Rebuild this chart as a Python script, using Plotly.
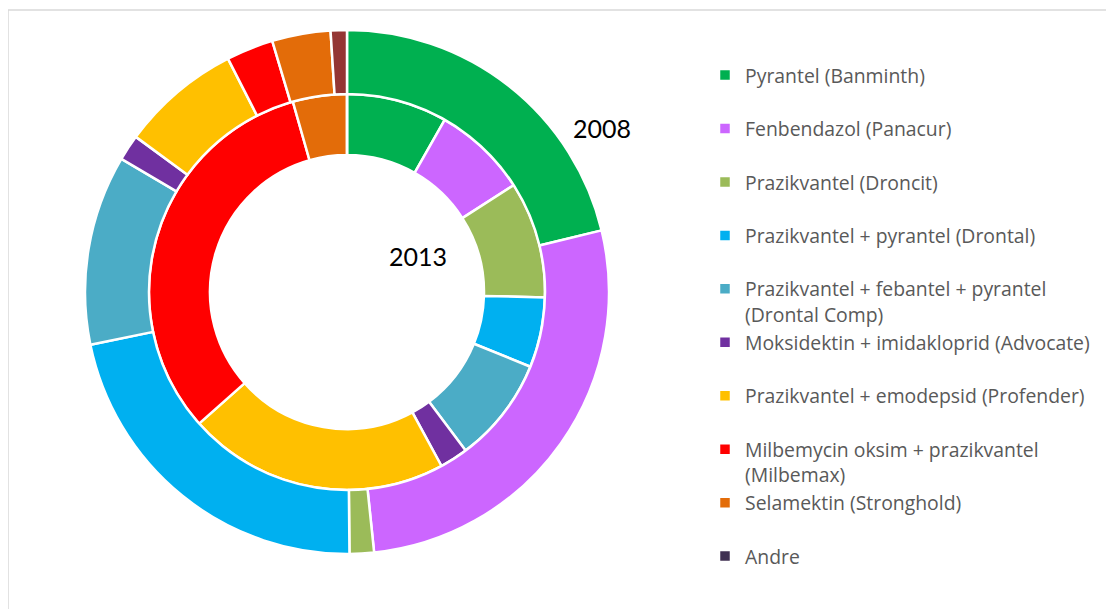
import plotly.graph_objects as go

labels = [
    "Pyrantel (Banminth)",
    "Fenbendazol (Panacur)",
    "Prazikvantel (Droncit)",
    "Prazikvantel + pyrantel (Drontal)",
    "Prazikvantel + febantel + pyrantel<br>(Drontal Comp)",
    "Moksidektin + imidakloprid (Advocate)",
    "Prazikvantel + emodepsid (Profender)",
    "Milbemycin oksim + prazikvantel<br>(Milbemax)",
    "Selamektin (Stronghold)",
    "Andre",
]
values_2008 = [21.2, 27.1, 1.5, 21.9, 11.7, 1.6, 7.4, 2.9, 3.6, 1.0]
values_2013 = [8.2, 7.7, 9.5, 5.7, 8.6, 2.3, 21.3, 32.1, 4.4, 0.0]

colors_2008 = ["#00B050", "#CC66FF", "#9BBB59", "#00B0F0", "#4BACC6",
               "#7030A0", "#FFC000", "#FF0000", "#E36C09", "#943634"]
colors_2013 = ["#00B050", "#CC66FF", "#9BBB59", "#00B0F0", "#4BACC6",
               "#7030A0", "#FFC000", "#FF0000", "#E36C09", "#403152"]

# page body has an 8px margin; work in reference-pixel coordinates and shift
OFF = 8
W, H = 1114 - OFF, 609 - OFF
cx, cy = 347 - OFF, 292 - OFF
r_out, r_mid, r_in = 262, 198, 137

def px(x):
    return (x - OFF) / W

def py(y):
    return 1 - (y - OFF) / H

def dom(r):
    return dict(x=[(cx - r) / W, (cx + r) / W], y=[1 - (cy + r) / H, 1 - (cy - r) / H])

# pad single-line labels to two lines so legend spacing is uniform
legend_labels = [l if "<br>" in l else l + "<br> " for l in labels]

fig = go.Figure()
fig.add_trace(go.Pie(
    labels=legend_labels, values=values_2013, name="2013",
    marker=dict(colors=colors_2013, line=dict(color="white", width=2.5)),
    hole=r_in / r_mid, domain=dom(r_mid), sort=False, direction="clockwise",
    rotation=0, textinfo="none", hoverinfo="label+value+name",
))
fig.add_trace(go.Pie(
    labels=legend_labels, values=values_2008, name="2008",
    marker=dict(colors=colors_2008, line=dict(color="white", width=2.5)),
    hole=r_mid / r_out, domain=dom(r_out), sort=False, direction="clockwise",
    rotation=0, textinfo="none", hoverinfo="label+value+name",
))

fig.add_annotation(text="2008", x=px(602), y=py(128), xref="paper", yref="paper",
                   xanchor="center", yanchor="middle",
                   showarrow=False, font=dict(size=25, color="#000000", family="Lato"))
fig.add_annotation(text="2013", x=px(418), y=py(256), xref="paper", yref="paper",
                   xanchor="center", yanchor="middle",
                   showarrow=False, font=dict(size=25, color="#000000", family="Lato"))

fig.add_shape(type="path", xref="paper", yref="paper",
              path=f"M {px(8)},0 L {px(8)},{py(10)} L 1,{py(10)}",
              line=dict(color="#D9D9D9", width=1.5))

fig.update_layout(
    width=W, height=H,
    margin=dict(l=0, r=0, t=0, b=0),
    paper_bgcolor="white", plot_bgcolor="white",
    font=dict(family="Open Sans", color="#595959"),
    legend=dict(x=px(705), xanchor="left", y=py(56), yanchor="top",
                font=dict(size=19.4, family="Open Sans", color="#595959"),
                valign="top", bgcolor="rgba(0,0,0,0)", traceorder="normal"),
)

fig.write_html("out.html")
